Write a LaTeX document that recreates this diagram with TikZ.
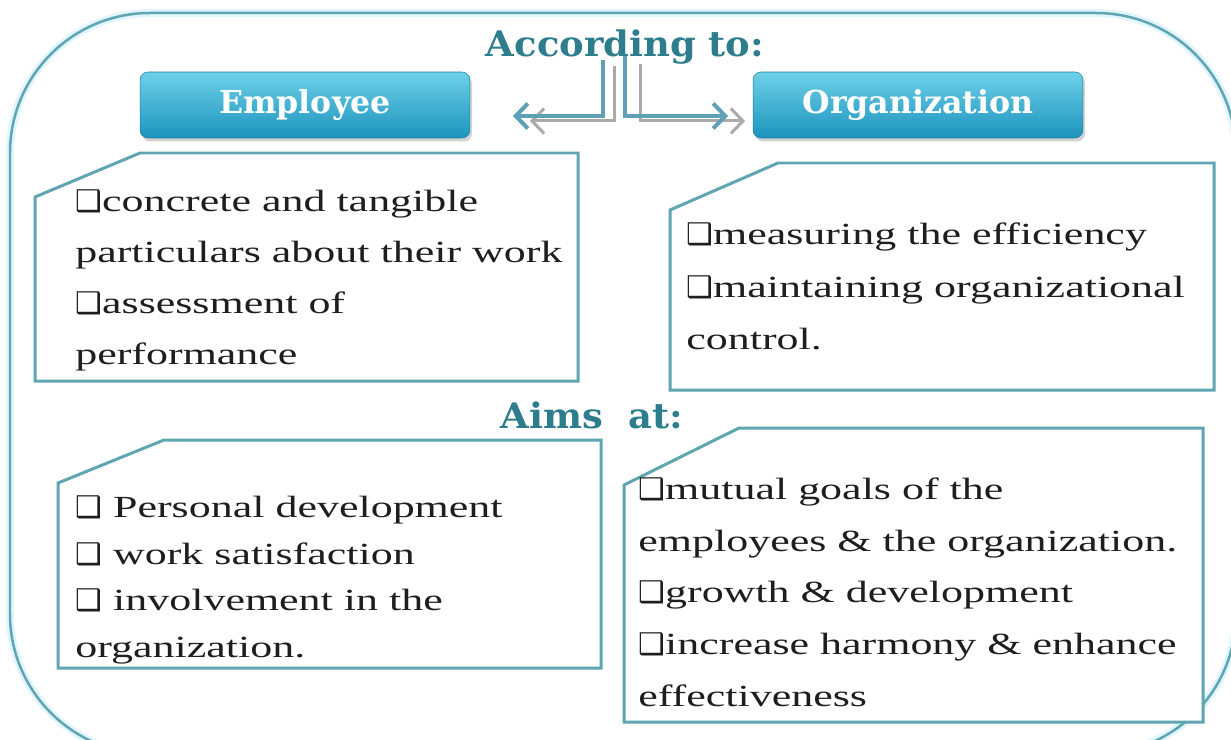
\documentclass[tikz,border=0pt]{standalone}
\usepackage{fontspec}
\setmainfont{Liberation Serif}
\newfontfamily\bodyfont[FakeStretch=1.43]{Liberation Serif}
\newfontfamily\headfont{DejaVu Serif}
\newfontfamily\headwide[FakeStretch=1.05]{DejaVu Serif}
\newfontfamily\symfont{DejaVu Sans}
\usetikzlibrary{arrows.meta,shadows}
\definecolor{headteal}{RGB}{46,125,140}
\definecolor{edgeteal}{RGB}{95,165,178}
\definecolor{btntop}{RGB}{110,208,232}
\definecolor{btnbot}{RGB}{28,148,190}
\definecolor{arrteal}{RGB}{95,160,180}
\definecolor{arrgray}{RGB}{170,170,170}
\definecolor{bodyink}{RGB}{30,30,30}
\newcommand{\bx}{{\symfont\fontsize{17}{17}\selectfont ❑}}
\tikzset{
  outerline/.style={draw=edgeteal, line width=0.05cm, rounded corners=2.8cm},
  outerglow/.style={draw=cyan!12, line width=0.16cm, rounded corners=2.8cm},
  panel/.style={draw=edgeteal, line width=0.06cm, fill=white, line join=miter},
  btn/.style={rounded corners=0.16cm, top color=btntop, bottom color=btnbot,
    draw=btnbot!85!black, line width=0.3pt,
    drop shadow={opacity=0.35, shadow xshift=0.04cm, shadow yshift=-0.07cm},
    minimum width=6.6cm, minimum height=1.32cm, inner sep=0pt,
    text=white, font=\headfont\bfseries\fontsize{18}{18}\selectfont},
  heading/.style={text=headteal, inner sep=0pt, font=\headwide\bfseries\fontsize{20}{20}\selectfont},
  bodytext/.style={anchor=north west, inner sep=0pt, align=left, text=bodyink},
  arrT/.style={draw=arrteal, line width=0.08cm, -{Straight Barb[length=0.24cm, width=0.5cm]}},
  arrG/.style={draw=arrgray, line width=0.06cm, -{Straight Barb[length=0.24cm, width=0.5cm]}},
}
\begin{document}
\begin{tikzpicture}[x=0.02cm, y=-0.02cm]
\useasboundingbox (0,0) rectangle (1231,740);
\fill[white] (0,0) rectangle (1231,740);
% outer frame
\draw[outerglow] (10,754) -- (10,13) -- (1236,13) -- (1236,754) -- cycle;
\draw[outerline] (10,754) -- (10,13) -- (1236,13) -- (1236,754) -- cycle;
% panels
\draw[panel] (35,197) -- (140,153) -- (578,153) -- (578,381) -- (35,381) -- cycle;
\draw[panel] (670,210) -- (778,163) -- (1214,163) -- (1214,390) -- (670,390) -- cycle;
\draw[panel] (58,483) -- (164,440) -- (601,440) -- (601,668) -- (58,668) -- cycle;
\draw[panel] (624,485) -- (739,428) -- (1203,428) -- (1203,722) -- (624,722) -- cycle;
% headings
\node[heading] (according) at (625,47) {According to:};
\node[heading] (aims) at (592,415) {Aims\ \ at:};
% buttons
\node[btn] (employee) at (305,105) {Employee};
\node[btn] (organization) at (918,105) {Organization};
% arrows
\coordinate (lgtop) at (614,66);
\coordinate (lgbend) at (614,121);
\coordinate (lgtip) at (530,121);
\coordinate (lttop) at (603,60);
\coordinate (ltbend) at (603,116);
\coordinate (lttip) at (513,116);
\coordinate (rgtop) at (640,64);
\coordinate (rgbend) at (640,121);
\coordinate (rgtip) at (745,121);
\coordinate (rttop) at (625,56);
\coordinate (rtbend) at (625,116);
\coordinate (rttip) at (728,116);
\draw[arrG] (lgtop) -- (lgbend) -- (lgtip);
\draw[arrG] (rgtop) -- (rgbend) -- (rgtip);
\draw[arrT] (lttop) -- (ltbend) -- (lttip);
\draw[arrT] (rttop) -- (rtbend) -- (rttip);
% texts
\node[bodytext, font=\bodyfont\fontsize{17.5}{29}\selectfont] (t1) at (75,176)
  {\rule{0pt}{20pt}\bx concrete and tangible\\particulars about their work\\\bx assessment of\\performance};
\node[bodytext, font=\bodyfont\fontsize{17.5}{29.9}\selectfont] (t2) at (686,209)
  {\rule{0pt}{20pt}\bx measuring the efficiency\\\bx maintaining organizational\\control.};
\node[bodytext, font=\bodyfont\fontsize{17.5}{26.5}\selectfont] (t3) at (75,482)
  {\rule{0pt}{20pt}\bx\ Personal development\\\bx\ work satisfaction\\\bx\ involvement in the\\organization.};
\node[bodytext, font=\bodyfont\fontsize{17.5}{29.4}\selectfont] (t4) at (638,464)
  {\rule{0pt}{20pt}\bx mutual goals of the\\employees \& the organization.\\\bx growth \& development\\\bx increase harmony \& enhance\\effectiveness};
\end{tikzpicture}
\end{document}
